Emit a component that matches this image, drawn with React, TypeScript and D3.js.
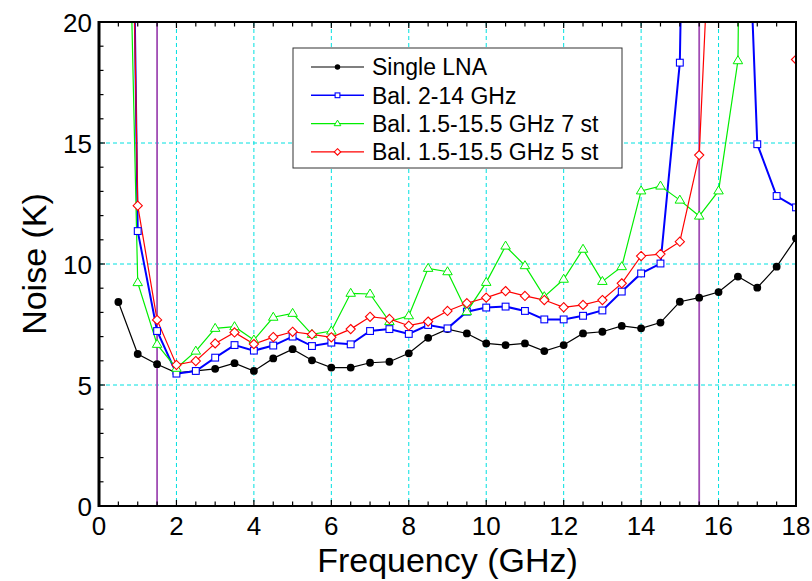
import React from "react";
import * as d3 from "d3";

// frequencies (GHz) at which noise was measured
const freqs = [
  0.5, 1, 1.5, 2, 2.5, 3, 3.5, 4, 4.5, 5, 5.5, 6, 6.5, 7, 7.5, 8, 8.5, 9,
  9.5, 10, 10.5, 11, 11.5, 12, 12.5, 13, 13.5, 14, 14.5, 15, 15.5, 16, 16.5,
  17, 17.5, 18,
];

const singleLna = [
  8.43, 6.28, 5.86, 5.5, 5.58, 5.67, 5.9, 5.58, 6.1, 6.48, 6.02, 5.72, 5.72,
  5.92, 5.96, 6.31, 6.95, 7.31, 7.13, 6.72, 6.65, 6.72, 6.4, 6.65, 7.13, 7.2,
  7.44, 7.34, 7.58, 8.44, 8.61, 8.84, 9.48, 9.02, 9.89, 11.06,
];

const bal214 = [
  70, 11.36, 7.23, 5.47, 5.58, 6.13, 6.65, 6.42, 6.63, 7.0, 6.61, 6.75, 6.68,
  7.23, 7.31, 7.11, 7.48, 7.34, 8.03, 8.2, 8.24, 8.06, 7.71, 7.71, 7.86, 8.08,
  8.86, 9.61, 10.02, 18.32, 65, 55, 36, 14.95, 12.81, 12.34,
];

// 7 stage version, last point off scale at 17 GHz
const bal7st = [
  45, 9.23, 6.68, 5.69, 6.4, 7.34, 7.41, 6.86, 7.8, 7.96, 7.09, 7.23, 8.79,
  8.76, 7.62, 7.86, 9.82, 9.68, 8.03, 9.24, 10.74, 9.93, 8.65, 9.37, 10.61,
  9.28, 9.89, 13.02, 13.22, 12.64, 11.98, 13.02, 18.4, 90,
];

const bal5st = [
  60, 12.41, 7.69, 5.83, 5.99, 6.72, 7.17, 6.69, 6.98, 7.2, 7.09, 6.97, 7.31,
  7.82, 7.73, 7.45, 7.62, 8.06, 8.38, 8.61, 8.88, 8.68, 8.51, 8.21, 8.31,
  8.51, 9.2, 10.33, 10.41, 10.92, 14.5, 32, 60, 90, 120, 18.45,
];

const xTickLabels = [0, 2, 4, 6, 8, 10, 12, 14, 16, 18];
const yTickLabels = [0, 5, 10, 15, 20];
const xGrid = [2, 4, 6, 8, 10, 12, 14, 16];
const yGrid = [5, 10, 15];
const bandEdges = [1.5, 15.5];

const series = [
  { name: "Single LNA", values: singleLna, color: "#000000", width: 1.2, marker: "circle" },
  { name: "Bal. 2-14 GHz", values: bal214, color: "#0000ff", width: 2, marker: "square" },
  { name: "Bal. 1.5-15.5 GHz 7 st", values: bal7st, color: "#00ee00", width: 1.2, marker: "triangle" },
  { name: "Bal. 1.5-15.5 GHz 5 st", values: bal5st, color: "#ff0000", width: 1.2, marker: "diamond" },
];

const W = 812;
const H = 581;
const left = 99;
const right = 796;
const top = 22;
const bottom = 506;
const font = "'Liberation Sans', Arial, sans-serif";

function Marker({ type, x, y, color, small }: any) {
  const s = small ? 0.7 : 1;
  if (type === "circle") return <circle cx={x} cy={y} r={3.9 * s} fill={color} />;
  if (type === "square")
    return (
      <rect x={x - 3.4 * s} y={y - 3.4 * s} width={6.8 * s} height={6.8 * s} fill="#fff" stroke={color} strokeWidth={1.1} />
    );
  if (type === "triangle") {
    const r = 5 * s;
    return (
      <path
        d={`M${x},${y - r}L${x + r * 0.95},${y + r * 0.6}L${x - r * 0.95},${y + r * 0.6}Z`}
        fill="#fff"
        stroke={color}
        strokeWidth={1}
      />
    );
  }
  const r = 4.6 * s;
  return (
    <path d={`M${x},${y - r}L${x + r},${y}L${x},${y + r}L${x - r},${y}Z`} fill="#fff" stroke={color} strokeWidth={1.1} />
  );
}

export default function App() {
  const x = d3.scaleLinear().domain([0, 18]).range([left, right]);
  const y = d3.scaleLinear().domain([0, 20]).range([bottom, top]);

  const line = d3
    .line<number>()
    .x((_, i) => x(freqs[i]))
    .y((d) => y(d));

  const xMinor = d3.range(0, 18.01, 0.5);
  const yMinor = d3.range(0, 20.01, 1);

  const legX = 293;
  const legY = 48;

  return (
    <svg width={W} height={H} style={{ position: "absolute", left: 0, top: 0 }} fontFamily={font}>
      <defs>
        <clipPath id="plot">
          <rect x={left} y={top} width={right - left} height={bottom - top} />
        </clipPath>
      </defs>
      <rect width={W} height={H} fill="#fff" />

      {/* grid */}
      <g stroke="#00e0e0" strokeWidth={1} strokeDasharray="4,3">
        {xGrid.map((v) => (
          <line key={"gx" + v} x1={x(v)} x2={x(v)} y1={top} y2={bottom} />
        ))}
        {yGrid.map((v) => (
          <line key={"gy" + v} x1={left} x2={right} y1={y(v)} y2={y(v)} />
        ))}
      </g>

      {/* band edges */}
      {bandEdges.map((v) => (
        <line key={"b" + v} x1={x(v)} x2={x(v)} y1={top} y2={bottom} stroke="#a04cb4" strokeWidth={1.8} />
      ))}

      <g clipPath="url(#plot)">
        {series.map((s) => (
          <path key={s.name} d={line(s.values) || ""} fill="none" stroke={s.color} strokeWidth={s.width} />
        ))}
        {series.map((s) =>
          s.values.map((v, i) =>
            v <= 21 ? <Marker key={s.name + i} type={s.marker} x={x(freqs[i])} y={y(v)} color={s.color} /> : null
          )
        )}
      </g>

      {/* ticks */}
      <g stroke="#000" strokeWidth={1.2}>
        {xMinor.map((v, i) => {
          const len = v % 2 === 0 ? 6 : 4.5;
          return (
            <g key={"tx" + i}>
              <line x1={x(v)} x2={x(v)} y1={bottom} y2={bottom - len} />
              <line x1={x(v)} x2={x(v)} y1={top} y2={top + len} />
            </g>
          );
        })}
        {yMinor.map((v, i) => {
          const len = v % 5 === 0 ? 6 : 4.5;
          return <line key={"ty" + i} x1={left} x2={left + len} y1={y(v)} y2={y(v)} />;
        })}
      </g>

      {/* frame */}
      <rect x={left} y={top} width={right - left} height={bottom - top} fill="none" stroke="#000" strokeWidth={2} />
      <line x1={left} x2={left} y1={top - 1} y2={bottom + 1} stroke="#000" strokeWidth={3} />

      {/* tick labels */}
      {xTickLabels.map((v) => (
        <text key={"lx" + v} x={x(v)} y={535} fontSize={26} textAnchor="middle" fill="#000">
          {v}
        </text>
      ))}
      {yTickLabels.map((v) => (
        <text key={"ly" + v} x={92} y={y(v) + 9.5} fontSize={26} textAnchor="end" fill="#000">
          {v}
        </text>
      ))}

      {/* axis titles */}
      <text x={(left + right) / 2} y={572} fontSize={34} textAnchor="middle" fill="#000">
        Frequency (GHz)
      </text>
      <text transform={`translate(46,${(top + bottom) / 2}) rotate(-90)`} fontSize={34} textAnchor="middle" fill="#000">
        Noise (K)
      </text>

      {/* legend */}
      <rect x={legX} y={legY} width={329} height={120} fill="#fff" stroke="#333" strokeWidth={1} />
      {series.map((s, i) => {
        const cy = 67 + i * 28.3;
        return (
          <g key={"leg" + i}>
            <line x1={311} x2={364} y1={cy} y2={cy} stroke={s.color} strokeWidth={s.width > 1.5 ? 1.6 : 1.1} />
            <Marker type={s.marker} x={337.5} y={cy} color={s.color} small />
            <text x={372} y={cy + 8.3} fontSize={23} fill="#000">
              {s.name}
            </text>
          </g>
        );
      })}
    </svg>
  );
}
